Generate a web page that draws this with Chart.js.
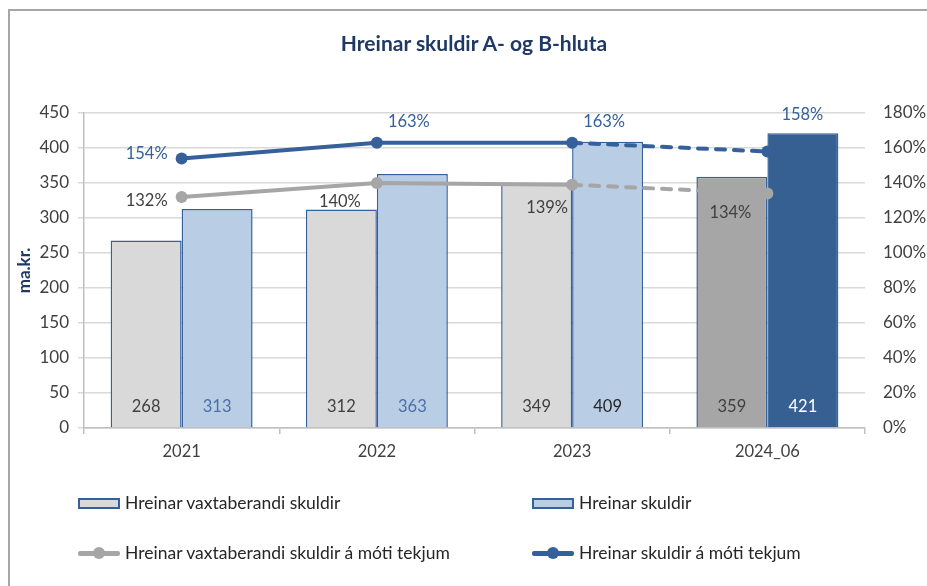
<!DOCTYPE html>
<html>
<head>
<meta charset="utf-8">
<script src="https://cdn.jsdelivr.net/npm/chart.js@4.4.1/dist/chart.umd.min.js"></script>
<style>
  html, body { margin: 0; padding: 0; background: #fff; }
  #wrap { position: relative; width: 927px; height: 586px; overflow: hidden; font-family: Lato, "Open Sans", sans-serif; }
  #frame { position: absolute; left: 8px; top: 9px; width: 1000px; height: 700px; border: 2px solid #A6A6A6; box-sizing: border-box; }
  canvas { position: absolute; left: 0; top: 0; }
  #title { position: absolute; left: 0; top: 30px; width: 948px; text-align: center; font-size: 21px; font-weight: bold; color: #1F3864; line-height: 26px; }
  .leg { position: absolute; height: 20px; line-height: 20px; font-size: 17.5px; color: #262626; white-space: nowrap; display: flex; align-items: center; }
  .box { display: inline-block; width: 38px; height: 7px; border: 2px solid #35609A; margin-right: 5px; }
  .lm { position: relative; display: inline-block; width: 42px; height: 14px; margin-right: 5px; }
  .lm .ln { position: absolute; left: 0; top: 5px; width: 42px; height: 5px; border-radius: 2px; }
  .lm .dot { position: absolute; left: 15px; top: 1px; width: 12px; height: 12px; border-radius: 50%; }
</style>
</head>
<body>
<div id="wrap">
  <div id="frame"></div>
  <canvas id="c" width="927" height="586"></canvas>
  <div id="title">Hreinar skuldir A- og B-hluta</div>
  <div class="leg" style="left:78px; top:493px;"><span class="box" style="background:#D9D9D9"></span>Hreinar vaxtaberandi skuldir</div>
  <div class="leg" style="left:532px; top:493px;"><span class="box" style="background:#B9CDE5"></span>Hreinar skuldir</div>
  <div class="leg" style="left:78px; top:543px;"><span class="lm"><span class="ln" style="background:#A6A6A6"></span><span class="dot" style="background:#A6A6A6"></span></span>Hreinar vaxtaberandi skuldir á móti tekjum</div>
  <div class="leg" style="left:532px; top:543px;"><span class="lm"><span class="ln" style="background:#35609A"></span><span class="dot" style="background:#35609A"></span></span>Hreinar skuldir á móti tekjum</div>
</div>
<script>
// ---- data ----
const categories = ['2021', '2022', '2023', '2024_06'];
const netInterestBearingDebt = [268, 312, 349, 359];
const netDebt = [313, 363, 409, 421];
const interestBearingRatio = [132, 140, 139, 134];
const netDebtRatio = [154, 163, 163, 158];
const leftTicks = [0, 50, 100, 150, 200, 250, 300, 350, 400, 450];
const rightTicks = [0, 20, 40, 60, 80, 100, 120, 140, 160, 180];

// ---- styles ----
const grayBarColors = ['#D9D9D9', '#D9D9D9', '#D9D9D9', '#A6A6A6'];
const blueBarColors = ['#B9CDE5', '#B9CDE5', '#B9CDE5', '#376092'];
const grayBarLabelColors = ['#404040', '#404040', '#404040', '#404040'];
const blueBarLabelColors = ['#4A72A8', '#4A72A8', '#262626', '#FFFFFF'];
const blueLabelPlacement = ['left', 'above', 'above', 'aboveHigh'];
const grayLabelPlacement = ['left', 'belowLeft', 'belowLeft2', 'belowLeft'];
const FONT = 'Lato, "Open Sans", sans-serif';

const labelPlugin = {
  id: 'labels',
  afterDatasetsDraw(chart) {
    const ctx = chart.ctx;
    ctx.save();
    ctx.font = '16.5px ' + FONT;
    ctx.textBaseline = 'middle';
    const yBase = chart.scales.y.getPixelForValue(0);
    // bar labels
    [[0, netInterestBearingDebt, grayBarLabelColors], [1, netDebt, blueBarLabelColors]].forEach(([di, vals, cols]) => {
      const meta = chart.getDatasetMeta(di);
      meta.data.forEach((el, i) => {
        ctx.fillStyle = cols[i];
        ctx.textAlign = 'center';
        ctx.fillText(String(vals[i]), el.x, yBase - 21);
      });
    });
    // line labels
    [[2, interestBearingRatio, '#404040', grayLabelPlacement], [3, netDebtRatio, '#35609A', blueLabelPlacement]].forEach(([di, vals, col, place]) => {
      const meta = chart.getDatasetMeta(di);
      meta.data.forEach((el, i) => {
        ctx.fillStyle = col;
        const t = vals[i] + '%';
        const p = place[i];
        if (p === 'left') { ctx.textAlign = 'right'; ctx.fillText(t, el.x - 14, el.y - 5 + (di === 2 ? 9 : 0)); }
        else if (p === 'above') { ctx.textAlign = 'center'; ctx.fillText(t, el.x + 32, el.y - 21); }
        else if (p === 'aboveHigh') { ctx.textAlign = 'center'; ctx.fillText(t, el.x + 35, el.y - 37); }
        else if (p === 'belowLeft') { ctx.textAlign = 'center'; ctx.fillText(t, el.x - 37, el.y + 19); }
        else { ctx.textAlign = 'center'; ctx.fillText(t, el.x - 25, el.y + 23); }
      });
    });
    ctx.restore();
  }
};

const dashLast = (ctx) => ctx.p0DataIndex === 2 ? [9, 9] : undefined;

new Chart(document.getElementById('c'), {
  data: {
    labels: categories,
    datasets: [
      { type: 'bar', label: 'Hreinar vaxtaberandi skuldir', data: netInterestBearingDebt, yAxisID: 'y',
        backgroundColor: grayBarColors, borderColor: '#35609A', borderWidth: 1.5, borderSkipped: 'bottom',
        categoryPercentage: 0.727, barPercentage: 1, order: 2 },
      { type: 'bar', label: 'Hreinar skuldir', data: netDebt, yAxisID: 'y',
        backgroundColor: blueBarColors, borderColor: '#35609A', borderWidth: 1.5, borderSkipped: 'bottom',
        categoryPercentage: 0.727, barPercentage: 1, order: 2 },
      { type: 'line', label: 'Hreinar vaxtaberandi skuldir á móti tekjum', data: interestBearingRatio, yAxisID: 'y2',
        borderColor: '#A6A6A6', backgroundColor: '#A6A6A6', borderWidth: 4, borderCapStyle: 'round',
        pointRadius: 6, pointBorderWidth: 0, pointBackgroundColor: '#A6A6A6', tension: 0,
        segment: { borderDash: dashLast }, order: 1 },
      { type: 'line', label: 'Hreinar skuldir á móti tekjum', data: netDebtRatio, yAxisID: 'y2',
        borderColor: '#35609A', backgroundColor: '#35609A', borderWidth: 4, borderCapStyle: 'round',
        pointRadius: 6, pointBorderWidth: 0, pointBackgroundColor: '#35609A', tension: 0,
        segment: { borderDash: dashLast }, order: 0 }
    ]
  },
  options: {
    responsive: false,
    animation: false,
    layout: { padding: { top: 113, bottom: 118, left: 0, right: 0 } },
    plugins: {
      legend: { display: false },
      tooltip: { enabled: false },
      title: { display: false }
    },
    scales: {
      x: {
        offset: true,
        grid: { display: true, drawOnChartArea: false, offset: true, color: '#BFBFBF', tickLength: 6, lineWidth: 1.5 },
        border: { display: true, color: '#BFBFBF', width: 1.5 },
        ticks: { color: '#404040', font: { family: FONT, size: 16.5 }, padding: 8 },
        afterFit(s) { s.height = 40; }
      },
      y: {
        position: 'left', min: 0, max: 450,
        afterBuildTicks(s) { s.ticks = leftTicks.map(v => ({ value: v })); },
        grid: { color: '#D9D9D9', lineWidth: 1.5, tickLength: 6 },
        border: { display: true, color: '#BFBFBF', width: 1.5 },
        ticks: { color: '#404040', font: { family: FONT, size: 17 }, padding: 9 },
        title: { display: true, text: 'ma.kr.', color: '#1F3864', font: { family: FONT, size: 17, weight: 'bold' }, padding: { top: 14, bottom: 0 } },
        afterFit(s) { s.width = 84; }
      },
      y2: {
        position: 'right', min: 0, max: 180,
        afterBuildTicks(s) { s.ticks = rightTicks.map(v => ({ value: v })); },
        grid: { display: false, drawOnChartArea: false },
        border: { display: false },
        ticks: { color: '#404040', font: { family: FONT, size: 17 }, padding: 10, callback: v => v + '%' },
        afterFit(s) { s.width = 62; }
      }
    }
  },
  plugins: [labelPlugin]
});
</script>
</body>
</html>
